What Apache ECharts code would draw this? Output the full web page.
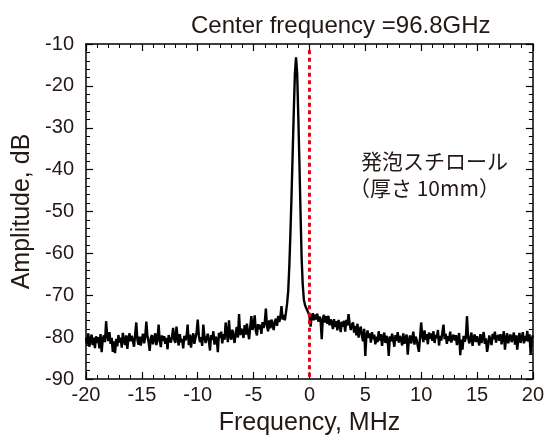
<!DOCTYPE html>
<html>
<head>
<meta charset="utf-8">
<script src="https://cdn.jsdelivr.net/npm/echarts@6/dist/echarts.min.js"></script>
<style>
  html, body { margin: 0; padding: 0; background: #fff; }
  #chart { width: 547px; height: 441px; }
</style>
</head>
<body>
<div id="chart"></div>
<script>
// spectrum: one value every 0.1 MHz from -20 MHz, one row per 1 MHz
let freqStart = -20;
let freqStep = 0.1;
let amplitude = [
    -80.2, -81.8, -79.1, -82.3, -80.6, -79.4, -81.9, -80.1, -82.6, -79.8, // -20
    -81.4, -80.0, -82.7, -79.3, -83.6, -80.5, -79.6, -81.2, -76.2, -79.8, // -19
    -80.9, -78.8, -81.6, -80.2, -83.5, -81.0, -83.8, -80.4, -82.2, -79.5, // -18
    -81.3, -80.1, -82.5, -79.0, -80.7, -81.9, -79.6, -82.8, -80.3, -79.1, // -17
    -81.0, -79.7, -80.9, -82.3, -79.4, -76.5, -80.6, -81.8, -79.9, -82.0, // -16
    -80.4, -79.2, -81.5, -80.0, -76.3, -79.8, -81.1, -83.3, -80.2, -79.5, // -15
    -81.7, -80.3, -79.1, -81.9, -80.5, -77.0, -80.8, -82.4, -79.6, -80.9, // -14
    -79.8, -81.6, -80.2, -82.9, -79.5, -80.7, -81.3, -79.9, -77.8, -80.6, // -13
    -81.4, -77.5, -80.1, -82.0, -79.3, -81.2, -80.4, -82.7, -79.7, -80.8, // -12
    -80.0, -77.0, -81.9, -79.4, -82.5, -80.3, -79.1, -81.6, -80.2, -78.9, // -11
    -75.8, -79.6, -81.2, -80.0, -82.1, -77.0, -79.8, -81.4, -80.3, -79.2, // -10
    -81.0, -83.2, -79.5, -80.7, -78.6, -81.8, -79.9, -80.4, -83.6, -79.0, // -9
    -80.2, -78.7, -81.5, -79.3, -80.6, -76.5, -79.0, -81.2, -76.0, -79.8, // -8
    -80.6, -78.2, -79.7, -81.4, -78.9, -77.6, -80.1, -74.5, -79.5, -78.0, // -7
    -78.7, -80.2, -77.1, -79.4, -76.8, -78.9, -80.5, -77.6, -75.0, -78.3, // -6
    -77.2, -74.8, -78.5, -79.6, -76.9, -78.1, -77.0, -79.2, -76.4, -77.8, // -5
    -76.5, -73.2, -77.4, -78.6, -76.0, -77.9, -75.8, -77.1, -78.3, -76.2, // -4
    -75.6, -77.3, -74.9, -76.4, -75.1, -72.6, -75.8, -74.7, -76.0, -74.1, // -3
    -72.0, -69.0, -63.0, -55.0, -46.0, -36.0, -26.0, -17.0, -13.2, -17.0, // -2
    -27.0, -38.0, -50.0, -61.0, -67.5, -71.0, -72.3, -73.0, -73.6, -74.2, // -1
    -75.0, -77.5, -75.2, -74.3, -76.0, -74.6, -75.8, -74.4, -76.3, -75.1, // 0
    -76.0, -80.5, -75.4, -74.7, -76.5, -75.0, -76.8, -74.9, -77.2, -75.8, // 1
    -76.4, -78.1, -75.7, -77.6, -76.2, -78.4, -75.9, -77.0, -78.8, -76.3, // 2
    -77.5, -76.1, -78.7, -75.9, -77.2, -74.5, -76.8, -78.3, -77.0, -76.5, // 3
    -78.9, -77.3, -79.6, -76.8, -80.1, -78.2, -77.5, -79.8, -81.0, -78.0, // 4
    -84.5, -79.6, -78.4, -80.2, -79.1, -81.3, -78.8, -80.5, -79.4, -81.7, // 5
    -79.9, -81.2, -78.6, -80.8, -79.3, -82.1, -80.0, -78.9, -81.4, -79.7, // 6
    -80.6, -84.5, -79.8, -81.0, -79.2, -80.7, -82.3, -79.5, -80.9, -78.8, // 7
    -81.3, -79.7, -80.5, -82.0, -79.1, -81.6, -80.2, -79.4, -84.2, -80.8, // 8
    -79.6, -81.5, -80.3, -78.7, -81.8, -79.9, -80.6, -82.2, -83.5, -80.1, // 9
    -76.5, -79.8, -81.2, -78.4, -80.6, -79.3, -81.7, -78.9, -80.4, -79.1, // 10
    -80.9, -78.6, -81.4, -79.5, -80.2, -78.3, -82.0, -79.7, -80.8, -78.8, // 11
    -77.0, -80.5, -79.2, -81.6, -79.8, -80.9, -78.7, -81.3, -80.1, -79.4, // 12
    -80.8, -79.5, -81.9, -80.3, -79.0, -84.3, -80.6, -83.0, -79.7, -81.1, // 13
    -80.2, -75.0, -79.9, -81.5, -80.4, -78.9, -82.1, -80.0, -79.4, -81.2, // 14
    -79.8, -80.7, -82.0, -79.3, -81.4, -80.1, -78.8, -81.6, -80.3, -83.5, // 15
    -82.0, -79.6, -80.8, -81.9, -79.2, -80.5, -78.7, -81.3, -80.0, -79.5, // 16
    -80.9, -79.3, -81.7, -80.2, -78.6, -83.0, -80.4, -79.1, -81.5, -80.0, // 17
    -79.4, -81.2, -80.1, -78.9, -81.8, -79.6, -83.0, -80.3, -79.0, -81.4, // 18
    -80.2, -78.8, -81.5, -79.7, -80.9, -78.5, -81.1, -79.3, -84.0, -80.4, // 19
    -79.6                                                                 // 20
];

// dotted marker at the centre frequency
let centerFreq = 0;
let centerLineRange = [-11.5, -90];

// axes
let freqRange = [-20, 20];
let ampRange = [-90, -10];

let labels = ['発泡スチロール', '（厚さ 10mm）'];

let latin = '"Liberation Sans", Arial, sans-serif';
let textColor = '#231815';

let spectrum = [];
for (let i = 0; i < amplitude.length; i++) {
    spectrum.push([+(freqStart + i * freqStep).toFixed(2), amplitude[i]]);
}
let centerLine = centerLineRange.map(v => [centerFreq, v]);

function makeX(pos) {
    return {
        type: 'value',
        position: pos,
        min: freqRange[0],
        max: freqRange[1],
        interval: 5,
        name: pos === 'bottom' ? 'Frequency, MHz' : '',
        nameLocation: 'middle',
        nameGap: 32,
        nameTextStyle: { fontFamily: latin, fontSize: 25, color: textColor },
        axisLine: { onZero: false, lineStyle: { color: '#000', width: 1.5 } },
        axisTick: { inside: true, length: 7, lineStyle: { color: '#000', width: 1.2 } },
        minorTick: { show: true, splitNumber: 5, length: 4, lineStyle: { color: '#000', width: 1 } },
        splitLine: { show: false },
        axisLabel: { show: pos === 'bottom', margin: 6, fontFamily: latin, fontSize: 20, color: textColor }
    };
}

function makeY(pos) {
    return {
        type: 'value',
        position: pos,
        min: ampRange[0],
        max: ampRange[1],
        interval: 10,
        name: pos === 'left' ? 'Amplitude, dB' : '',
        nameLocation: 'middle',
        nameGap: 46,
        nameTextStyle: { fontFamily: latin, fontSize: 25, color: textColor },
        axisLine: { onZero: false, lineStyle: { color: '#000', width: 1.5 } },
        axisTick: { inside: true, length: 7, lineStyle: { color: '#000', width: 1.2 } },
        minorTick: { show: true, splitNumber: 5, length: 4, lineStyle: { color: '#000', width: 1 } },
        splitLine: { show: false },
        axisLabel: { show: pos === 'left', margin: 12, fontFamily: latin, fontSize: 20, color: textColor }
    };
}

let option = {
    animation: false,
    backgroundColor: '#fff',
    title: {
        text: 'Center frequency =96.8GHz',
        left: 186,
        top: 9,
        textStyle: { fontFamily: latin, fontSize: 24, fontWeight: 'normal', color: textColor }
    },
    grid: { left: 86, right: 9, top: 44, bottom: 57 },
    xAxis: [makeX('bottom'), makeX('top')],
    yAxis: [makeY('left'), makeY('right')],
    series: [
        {
            type: 'line',
            data: spectrum,
            showSymbol: false,
            lineStyle: { color: '#000', width: 2.4 },
            z: 3
        },
        {
            type: 'line',
            data: centerLine,
            showSymbol: false,
            lineStyle: { color: '#e60012', width: 3, type: [4, 3.5] },
            z: 4
        }
    ],
    graphic: [
        {
            type: 'text', x: 361, y: 161,
            style: { text: labels[0], fill: textColor, font: '21px "Noto Sans CJK JP"', verticalAlign: 'middle' }
        },
        {
            type: 'text', x: 349, y: 188,
            style: { text: labels[1], fill: textColor, font: '21px "Noto Sans CJK JP"', verticalAlign: 'middle' }
        }
    ]
};

let myChart = echarts.init(document.querySelector('#chart'));
myChart.setOption(option);
</script>
</body>
</html>
